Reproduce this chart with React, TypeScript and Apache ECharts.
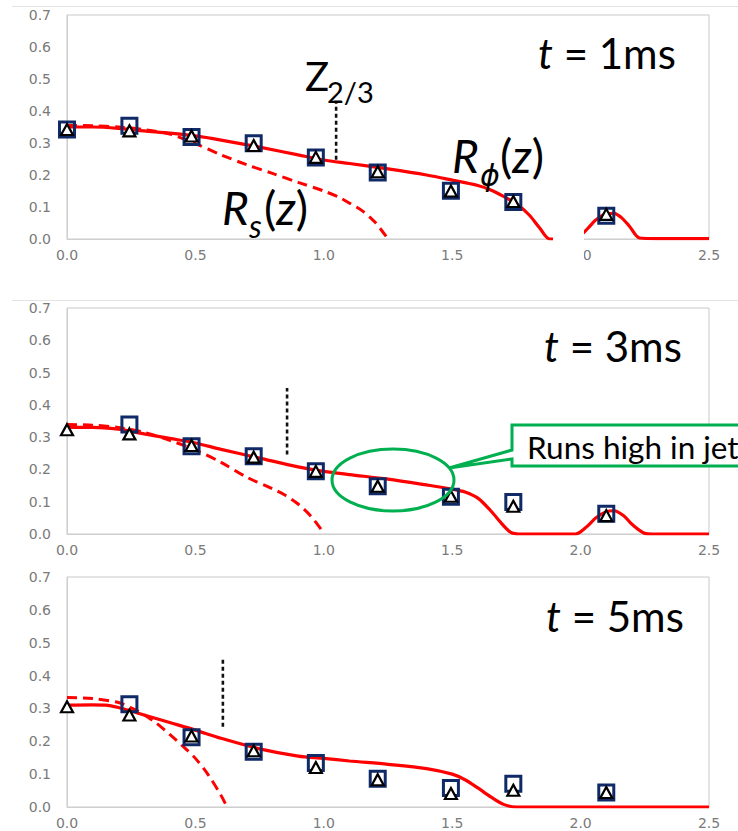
import React, { useEffect, useRef } from "react";
import * as echarts from "echarts";

// ---- data ----
const zPos = [0, 0.243, 0.485, 0.727, 0.969, 1.21, 1.495, 1.738, 2.1];

const squares1 = [0.342, 0.354, 0.319, 0.299, 0.255, 0.208, 0.151, 0.116, 0.073];
const triangles1 = [0.342, 0.338, 0.322, 0.292, 0.255, 0.21, 0.15, 0.117, 0.077];
const squares2 = [null, 0.339, 0.272, 0.241, 0.194, 0.148, 0.115, 0.099, 0.063];
const triangles2 = [0.323, 0.31, 0.274, 0.238, 0.194, 0.148, 0.117, 0.086, 0.057];
const squares3 = [null, 0.313, 0.212, 0.168, 0.134, 0.086, 0.058, 0.071, 0.044];
const triangles3 = [0.305, 0.28, 0.216, 0.171, 0.12, 0.083, 0.041, 0.051, 0.044];

const rPhiX1 = [0, 0.1, 0.2, 0.3, 0.4, 0.5, 0.6, 0.75, 0.9, 1.0, 1.1, 1.25, 1.4, 1.5, 1.6, 1.65, 1.7, 1.75, 1.8, 1.84, 1.88, 1.95, 2.0, 2.03, 2.06, 2.1, 2.13, 2.16, 2.19, 2.23, 2.3, 2.5];
const rPhiY1 = [0.35, 0.35, 0.346, 0.338, 0.331, 0.322, 0.309, 0.287, 0.263, 0.247, 0.236, 0.219, 0.2, 0.184, 0.167, 0.153, 0.133, 0.11, 0.075, 0.035, 0.0, 0.0, 0.012, 0.035, 0.06, 0.079, 0.08, 0.066, 0.04, 0.003, 0.001, 0.001];
const rSX1 = [0, 0.1, 0.2, 0.3, 0.4, 0.5, 0.6, 0.7, 0.8, 0.9, 1.0, 1.06, 1.1, 1.15, 1.2, 1.25];
const rSY1 = [0.355, 0.354, 0.35, 0.342, 0.328, 0.298, 0.263, 0.232, 0.205, 0.177, 0.15, 0.13, 0.112, 0.088, 0.052, 0.0];

const rPhiX2 = [0, 0.1, 0.2, 0.25, 0.3, 0.4, 0.5, 0.6, 0.75, 0.9, 1.0, 1.1, 1.25, 1.4, 1.5, 1.55, 1.6, 1.65, 1.7, 1.73, 1.76, 1.98, 2.02, 2.06, 2.1, 2.13, 2.17, 2.2, 2.25, 2.28, 2.5];
const rPhiY2 = [0.33, 0.33, 0.325, 0.318, 0.31, 0.296, 0.282, 0.262, 0.235, 0.208, 0.194, 0.184, 0.17, 0.152, 0.139, 0.13, 0.111, 0.072, 0.026, 0.004, 0.0, 0.0, 0.02, 0.05, 0.069, 0.072, 0.055, 0.03, 0.002, 0.0, 0.0];
const rSX2 = [0, 0.1, 0.2, 0.3, 0.4, 0.5, 0.6, 0.7, 0.8, 0.85, 0.9, 0.95, 1.0];
const rSY2 = [0.339, 0.337, 0.33, 0.315, 0.29, 0.26, 0.222, 0.176, 0.14, 0.12, 0.093, 0.055, 0.003];

const rPhiX3 = [0, 0.1, 0.15, 0.2, 0.25, 0.3, 0.4, 0.5, 0.6, 0.75, 0.9, 1.0, 1.1, 1.25, 1.4, 1.5, 1.55, 1.6, 1.65, 1.7, 1.75, 1.8, 2.5];
const rPhiY3 = [0.31, 0.311, 0.31, 0.303, 0.292, 0.28, 0.257, 0.234, 0.209, 0.177, 0.155, 0.148, 0.14, 0.13, 0.117, 0.1, 0.083, 0.058, 0.031, 0.008, 0.0, 0.0, 0.0];
const rSX3 = [0, 0.1, 0.2, 0.25, 0.3, 0.35, 0.4, 0.45, 0.5, 0.55, 0.6, 0.62];
const rSY3 = [0.333, 0.33, 0.318, 0.302, 0.281, 0.254, 0.221, 0.186, 0.148, 0.098, 0.035, 0.005];

// Z_{2/3} marker positions per panel
const zMarkX = [1.048, 0.857, 0.607];
const zMarkTop = [0.43, 0.452, 0.451];
const zMarkBottom = [0.248, 0.246, 0.244];

const timeLabels = ["1ms", "3ms", "5ms"];
const xTicks = { min: 0, max: 2.5, interval: 0.5 };
const yTicks = { min: 0, max: 0.7, interval: 0.1 };

// ---- layout ----
const gridBoxes = [
  { left: 67, top: 15, width: 642, height: 224 },
  { left: 67, top: 308, width: 642, height: 226 },
  { left: 67, top: 577, width: 642, height: 230 },
];

const RED = "#FF0000";
const NAVY = "#0F2A66";
const GREEN = "#00B050";
const AXIS_GREY = "#7A7A7A";

const zip = (xs: number[], ys: (number | null)[]) =>
  xs.map((x, i) => [x, ys[i]]).filter((p) => p[1] !== null);

const LATO_MID = 0.387;
const DJ_MID = 0.346;

function txt(
  text: string,
  x: number,
  baseline: number,
  fs: number,
  italic = false,
  family = "Lato",
  withRich = false
) {
  const mid = family === "Lato" ? LATO_MID : DJ_MID;
  return {
    type: "text",
    x,
    y: baseline - mid * fs,
    z: 100,
    style: {
      text,
      fill: "#000",
      fontFamily: family,
      fontSize: fs,
      fontStyle: italic ? "italic" : "normal",
      align: "left",
      verticalAlign: "middle",
      rich: withRich
        ? {
            i: {
              fontStyle: "italic",
              fontFamily: "Lato",
              fontSize: fs,
              fill: "#000",
              verticalAlign: "middle",
            },
          }
        : undefined,
    },
  };
}

export default function App() {
  const ref = useRef<HTMLDivElement>(null);

  useEffect(() => {
    if (!ref.current) return;
    const chart = echarts.init(ref.current, null, { renderer: "svg" });

    const squares = [squares1, squares2, squares3];
    const triangles = [triangles1, triangles2, triangles3];
    const phiX = [rPhiX1, rPhiX2, rPhiX3];
    const phiY = [rPhiY1, rPhiY2, rPhiY3];
    const sX = [rSX1, rSX2, rSX3];
    const sY = [rSY1, rSY2, rSY3];

    const grid = gridBoxes.map((g) => ({
      ...g,
      show: true,
      borderColor: "#C8C8C8",
      borderWidth: 1,
      backgroundColor: "transparent",
    }));

    const labelStyle = {
      color: AXIS_GREY,
      fontFamily: "DejaVu Sans",
      fontSize: 14,
    };

    const xAxis = gridBoxes.map((_, i) => ({
      type: "value",
      gridIndex: i,
      ...xTicks,
      axisLine: { show: true, lineStyle: { color: "#CFCFCF", width: 1 } },
      axisTick: { show: false },
      splitLine: { show: false },
      axisLabel: { ...labelStyle, margin: 9, formatter: (v: number) => v.toFixed(1) },
    }));
    const yAxis = gridBoxes.map((_, i) => ({
      type: "value",
      gridIndex: i,
      ...yTicks,
      axisLine: { show: true, lineStyle: { color: "#CFCFCF", width: 1 } },
      axisTick: { show: false },
      splitLine: { show: false },
      axisLabel: { ...labelStyle, margin: 16, formatter: (v: number) => v.toFixed(1) },
    }));

    const series: any[] = [];
    for (let i = 0; i < 3; i++) {
      series.push({
        type: "line",
        xAxisIndex: i,
        yAxisIndex: i,
        data: zip(sX[i], sY[i]),
        showSymbol: false,
        symbol: "none",
        smooth: 0.3,
        z: 2,
        lineStyle: { color: RED, width: 3, type: [10, 6] },
      });
      series.push({
        type: "line",
        xAxisIndex: i,
        yAxisIndex: i,
        data: zip(phiX[i], phiY[i]),
        showSymbol: false,
        symbol: "none",
        smooth: 0.3,
        z: 3,
        lineStyle: { color: RED, width: 3.2 },
      });
      series.push({
        type: "line",
        xAxisIndex: i,
        yAxisIndex: i,
        data: [
          [zMarkX[i], zMarkBottom[i]],
          [zMarkX[i], zMarkTop[i]],
        ],
        showSymbol: false,
        symbol: "none",
        z: 3,
        lineStyle: { color: "#111", width: 2.6, type: [4, 3] },
      });
      series.push({
        type: "scatter",
        xAxisIndex: i,
        yAxisIndex: i,
        data: zip(zPos, squares[i]),
        symbol: "rect",
        symbolSize: 15,
        z: 4,
        itemStyle: {
          color: "rgba(255,255,255,0)",
          borderColor: NAVY,
          borderWidth: 3,
          opacity: 1,
        },
      });
      series.push({
        type: "scatter",
        xAxisIndex: i,
        yAxisIndex: i,
        data: zip(zPos, triangles[i]),
        symbol: "triangle",
        symbolSize: [12, 11],
        z: 5,
        itemStyle: { color: "#fff", borderColor: "#000", borderWidth: 2.2, opacity: 1 },
      });
    }

    const graphic: any[] = [
      // slide separator lines
      { type: "line", z: 100, shape: { x1: 12, y1: 6.5, x2: 738, y2: 6.5 }, style: { stroke: "#E3E3E3", lineWidth: 1 } },
      { type: "line", z: 100, shape: { x1: 12, y1: 300.5, x2: 738, y2: 300.5 }, style: { stroke: "#E3E3E3", lineWidth: 1 } },
      // white patch hiding part of panel 1
      { type: "rect", z: 100, shape: { x: 553, y: 196, width: 31, height: 70 }, style: { fill: "#fff" } },

      // time labels
      txt("{i|t} = " + timeLabels[0], 538, 69, 42, false, "Lato", true),
      txt("{i|t} = " + timeLabels[1], 544, 362, 42, false, "Lato", true),
      txt("{i|t} = " + timeLabels[2], 546, 632, 42, false, "Lato", true),

      // Z_{2/3}
      txt("Z", 305, 91, 40),
      txt("2/3", 327, 103, 29),

      // R_phi(z)
      txt("R", 452, 173, 46, true),
      txt("\u03D5", 480, 186, 30, true, "DejaVu Sans"),
      txt("({i|z})", 500, 173, 46, false, "Lato", true),

      // R_s(z)
      txt("R", 222, 225, 46, true),
      txt("s", 249, 238, 32, true),
      txt("({i|z})", 264, 225, 46, false, "Lato", true),

      // green ellipse
      {
        type: "ellipse",
        z: 100,
        shape: { cx: 393, cy: 480, rx: 61, ry: 31 },
        style: { fill: "none", stroke: GREEN, lineWidth: 3 },
      },
      // callout
      {
        type: "polygon",
        z: 100,
        shape: {
          points: [
            [512, 425],
            [752, 425],
            [752, 466],
            [512, 466],
            [512, 459],
            [449, 468],
            [512, 450],
          ],
        },
        style: { fill: "#fff", stroke: GREEN, lineWidth: 3 },
      },
      txt("Runs high in jet", 527, 459, 31.5),
    ];

    chart.setOption({
      animation: false,
      backgroundColor: "#fff",
      grid,
      xAxis,
      yAxis,
      series,
      graphic,
    });

    return () => chart.dispose();
  }, []);

  return (
    <div
      ref={ref}
      style={{ position: "absolute", left: 0, top: 0, width: 738, height: 831 }}
    />
  );
}
